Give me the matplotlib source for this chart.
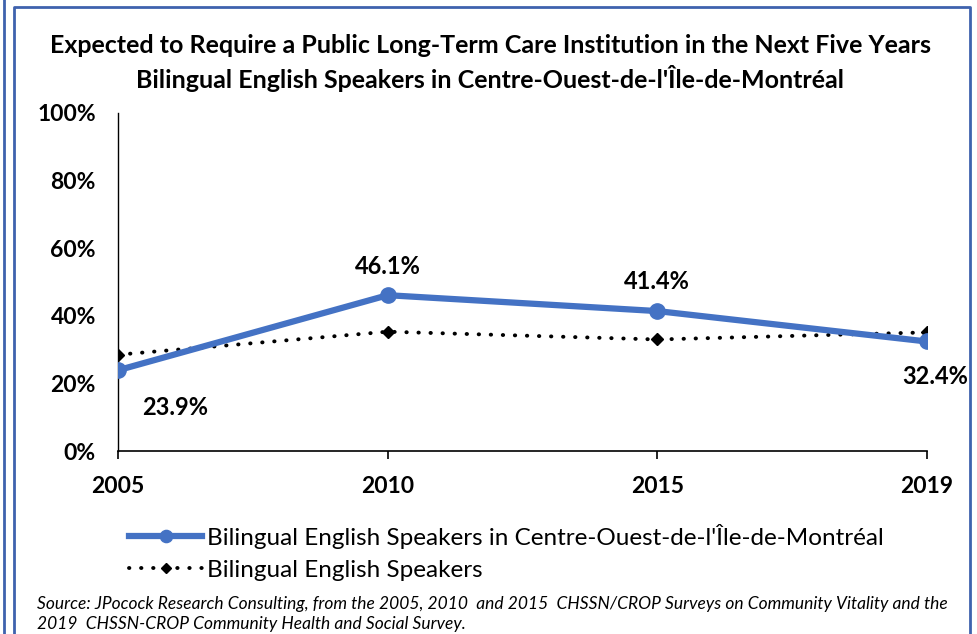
import matplotlib.pyplot as plt
from matplotlib.lines import Line2D
from matplotlib.ticker import PercentFormatter

years = ['2005', '2010', '2015', '2019']
centre_ouest = [23.9, 46.1, 41.4, 32.4]
bilingual_all = [28.5, 35.3, 33.0, 35.1]

plt.rcParams['font.family'] = ['Lato', 'DejaVu Sans']

fig = plt.figure(figsize=(9.77, 6.34), dpi=100)
ax = fig.add_axes([0.1208, 0.2886, 0.8280, 0.5332])

x = range(len(years))
ax.plot(x, bilingual_all, color='black', lw=2.8, linestyle=(0, (0.1, 3.0)),
        dash_capstyle='round', marker='D', markersize=6, zorder=2,
        label='Bilingual English Speakers')
ax.plot(x, centre_ouest, color='#4472C4', lw=4.5, marker='o', markersize=11,
        zorder=3, label="Bilingual English Speakers in Centre-Ouest-de-l'Île-de-Montréal")

# data labels
offsets = [(41, -27), (0, 21), (0, 21), (6, -25)]
for i, v in enumerate(centre_ouest):
    dx, dy = offsets[i]
    ax.annotate(f'{v:.1f}%', (i, v), xytext=(dx, dy), textcoords='offset points',
                ha='center', va='center', fontsize=17, fontweight='bold')

ax.set_xlim(0, 3)
ax.set_ylim(0, 100)
ax.set_yticks(range(0, 101, 20))
ax.yaxis.set_major_formatter(PercentFormatter(decimals=0))
ax.set_xticks(list(x))
ax.set_xticklabels(years)
for lab in ax.get_xticklabels() + ax.get_yticklabels():
    lab.set_fontweight('bold')
    lab.set_fontsize(16.5)
ax.tick_params(axis='y', length=0, pad=16)
ax.tick_params(axis='x', length=6, width=1.2, pad=12, direction='out')
ax.spines['top'].set_visible(False)
ax.spines['right'].set_visible(False)
ax.spines['left'].set_linewidth(1)
ax.spines['bottom'].set_linewidth(1.2)

fig.text(0.502, 0.928, 'Expected to Require a Public Long-Term Care Institution in the Next Five Years',
         ha='center', va='center', fontsize=18, fontweight='bold')
fig.text(0.502, 0.876, "Bilingual English Speakers in Centre-Ouest-de-l'Île-de-Montréal",
         ha='center', va='center', fontsize=18, fontweight='bold')

handles, labels = ax.get_legend_handles_labels()
fig.legend(handles[::-1], labels[::-1], loc='upper left', bbox_to_anchor=(0.120, 0.193),
           frameon=False, fontsize=17.5, handlelength=3.0, handletextpad=0.2,
           labelspacing=0.45, borderpad=0, markerscale=0.8)

fig.text(0.038, 0.048, 'Source: JPocock Research Consulting, from the 2005, 2010  and 2015  CHSSN/CROP Surveys on Community Vitality and the',
         fontsize=12.5, style='italic', va='center')
fig.text(0.038, 0.016, '2019  CHSSN-CROP Community Health and Social Survey.',
         fontsize=12.5, style='italic', va='center')

# frame lines
border = '#3F62AE'
fig.add_artist(Line2D([0.0045, 0.0045], [0, 1], color=border, lw=2, transform=fig.transFigure))
fig.add_artist(Line2D([0.0145, 0.0145, 0.993, 0.993], [0, 0.989, 0.989, 0],
                      color=border, lw=2, transform=fig.transFigure))

fig.savefig('out.png', dpi=100)
